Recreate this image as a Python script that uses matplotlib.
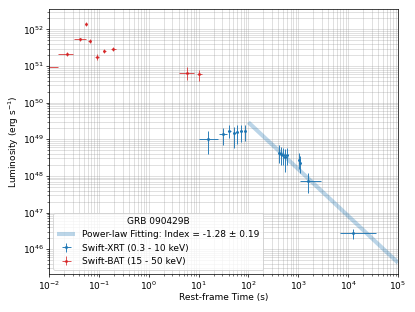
import matplotlib
matplotlib.use("Agg")
import matplotlib.pyplot as plt
from matplotlib.ticker import NullFormatter, LogFormatterSciNotation
import numpy as np

# Swift-BAT (15 - 50 keV)
bat_t = [0.0085, 0.0233, 0.0419, 0.0553, 0.0656, 0.092, 0.129, 0.195, 5.9, 10.1]
bat_t_lo = [0.0035, 0.008, 0.0097, 0.002, 0.004, 0.008, 0.009, 0.02, 1.83, 0.7]
bat_t_hi = [0.0065, 0.0073, 0.0127, 0.002, 0.004, 0.008, 0.01, 0.03, 2.27, 1.5]
bat_L = [9.5e50, 2.1e51, 5.3e51, 1.4e52, 4.8e51, 1.76e51, 2.6e51, 2.85e51, 6.6e50, 5.9e50]
bat_L_lo = [0.0, 0.25e51, 0.5e51, 0.2e52, 0.6e51, 0.3e51, 0.4e51, 0.35e51, 2.5e50, 2.0e50]
bat_L_hi = [0.0, 0.25e51, 0.5e51, 0.2e52, 0.6e51, 0.3e51, 0.4e51, 0.35e51, 3.0e50, 2.0e50]

# Swift-XRT (0.3 - 10 keV)
xrt_t = [15.4, 31.2, 41.7, 51.8, 60.4, 71.7, 86.2, 415, 456, 493, 549, 601, 1013, 1062, 1538, 12530]
xrt_t_lo = [5.1, 5.3, 2.5, 2.5, 2.5, 2.5, 3.0, 12, 10, 10, 12, 15, 20, 25, 441, 5780]
xrt_t_hi = [9.0, 6.8, 2.5, 2.5, 2.5, 2.5, 3.0, 12, 10, 10, 12, 15, 20, 25, 1320, 23770]
xrt_L = [1.0e49, 1.37e49, 1.72e49, 1.51e49, 1.61e49, 1.65e49, 1.69e49,
         4.3e48, 3.98e48, 3.73e48, 3.36e48, 3.73e48, 2.73e48, 2.22e48, 7.3e47, 2.74e46]
xrt_L_lo = [0.6e49, 0.67e49, 0.65e49, 0.94e49, 0.88e49, 0.8e49, 0.8e49,
            2.08e48, 2.0e48, 1.8e48, 2.05e48, 1.8e48, 1.2e48, 1.0e48, 3.9e47, 0.86e46]
xrt_L_hi = [0.72e49, 0.63e49, 0.73e49, 0.70e49, 0.84e49, 0.75e49, 0.75e49,
            2.7e48, 2.3e48, 2.0e48, 2.0e48, 2.0e48, 1.4e48, 1.2e48, 4.5e47, 0.78e46]

# Power-law fit segment endpoints
fit_t = [100, 1e5]
fit_L = [2.9e49, 4.3e45]
fit_label = "Power-law Fitting: Index = -1.28 ± 0.19"

# Major tick positions
x_ticks = [1e-2, 1e-1, 1e0, 1e1, 1e2, 1e3, 1e4, 1e5]
y_ticks = [1e46, 1e47, 1e48, 1e49, 1e50, 1e51, 1e52]

fig = plt.figure(figsize=(415 / 65, 312 / 65), dpi=65)
ax = fig.add_axes([0.118, 0.121, 0.841, 0.849])

ax.plot(fit_t, fit_L, color="tab:blue", alpha=0.3, lw=4.5, label=fit_label, solid_capstyle="butt")
ax.errorbar(xrt_t, xrt_L, xerr=[xrt_t_lo, xrt_t_hi], yerr=[xrt_L_lo, xrt_L_hi],
            fmt="o", ms=2.2, color="tab:blue", ecolor="tab:blue", elinewidth=1.0,
            capsize=0, label="Swift-XRT (0.3 - 10 keV)")
ax.errorbar(bat_t, bat_L, xerr=[bat_t_lo, bat_t_hi], yerr=[bat_L_lo, bat_L_hi],
            fmt="o", ms=2.2, color="tab:red", ecolor="tab:red", elinewidth=1.0,
            capsize=0, alpha=0.85, label="Swift-BAT (15 - 50 keV)")

ax.set_xscale("log")
ax.set_yscale("log")
ax.set_xticks(x_ticks)
ax.set_yticks(y_ticks)
ax.xaxis.set_major_formatter(LogFormatterSciNotation())
ax.yaxis.set_major_formatter(LogFormatterSciNotation())
ax.set_xlim(1e-2, 1e5)
ax.set_ylim(10 ** 45.318, 10 ** 52.545)
ax.xaxis.set_minor_formatter(NullFormatter())
ax.yaxis.set_minor_formatter(NullFormatter())
ax.grid(True, which="both", color="gray", alpha=0.33, lw=0.8)
ax.tick_params(which="major", pad=2)
ax.set_xlabel("Rest-frame Time (s)", labelpad=2)
ax.set_ylabel("Luminosity (erg s$^{-1}$)", labelpad=2)
ax.legend(loc="lower left", title="GRB 090429B")

fig.savefig("out.png", dpi=65)
